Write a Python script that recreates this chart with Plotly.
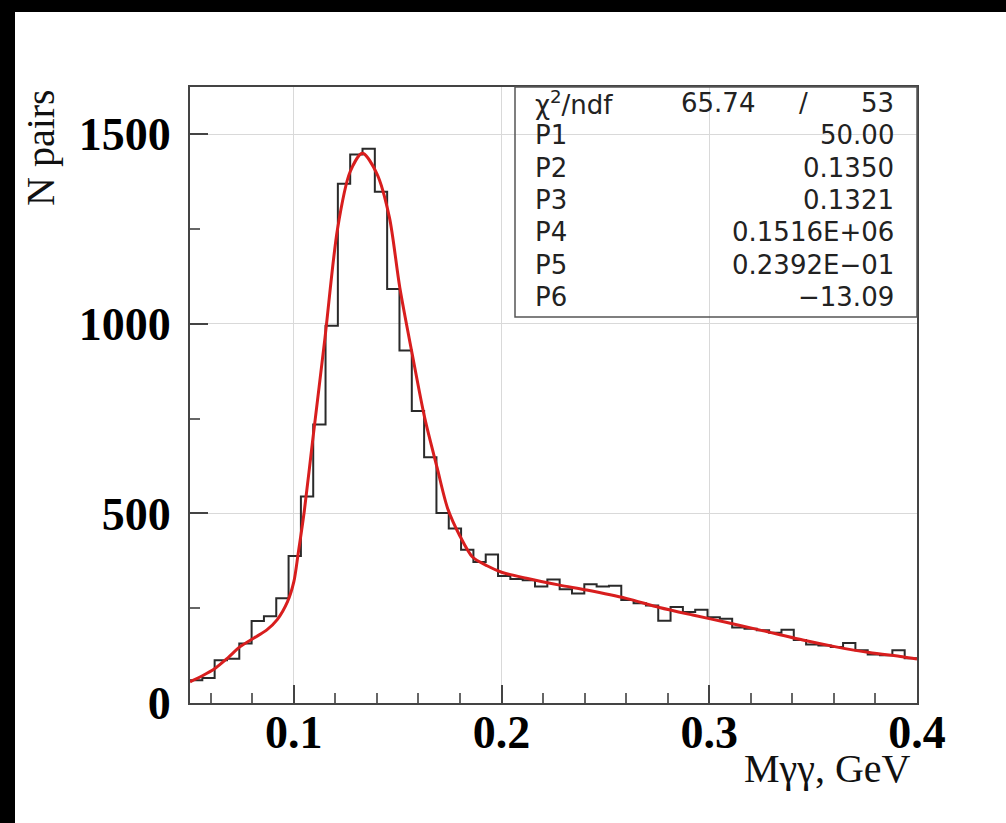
import numpy as np
import plotly.graph_objects as go

# ---------------- data ----------------
bin_lo, bin_hi, n_bins = 0.05, 0.40, 59
counts = [60, 66, 113, 117, 157, 216, 229, 276, 388, 545,
          735, 995, 1370, 1447, 1462, 1349, 1092, 930, 770, 648,
          501, 460, 404, 372, 392, 335, 327, 324, 307, 326,
          300, 289, 313, 307, 309, 272, 263, 257, 217, 253,
          240, 246, 226, 222, 199, 196, 192, 185, 193, 166,
          154, 152, 148, 158, 139, 128, 126, 139, 118]

fit_x = [0.050, 0.056, 0.062, 0.068, 0.074, 0.081, 0.087, 0.092, 0.097, 0.100,
         0.102, 0.105, 0.109, 0.115, 0.121, 0.127, 0.133, 0.140, 0.146, 0.151,
         0.157, 0.163, 0.169, 0.174, 0.180, 0.186, 0.193, 0.200, 0.212, 0.228,
         0.241, 0.260, 0.276, 0.292, 0.308, 0.324, 0.345, 0.361, 0.377, 0.393, 0.400]
fit_y = [56, 72, 91, 118, 148, 172, 193, 220, 268, 320,
         391, 505, 690, 964, 1250, 1400, 1450, 1396, 1281, 1096,
         920, 752, 620, 514, 440, 385, 362, 345, 329, 311,
         298, 276, 252, 232, 213, 193, 166, 148, 133, 122, 116]

x_ticks = [0.1, 0.2, 0.3, 0.4]
x_tick_labels = ["0.1", "0.2", "0.3", "0.4"]
y_ticks = [0, 500, 1000, 1500]
y_tick_labels = ["0", "500", "1000", "1500"]

stat_names = ["χ<sup>2</sup>/ndf", "P1", "P2", "P3", "P4", "P5", "P6"]
stat_values = ["50.00", "0.1350", "0.1321", "0.1516E+06", "0.2392E−01", "−13.09"]
chi2_value = "65.74"
ndf_value = "53"

x_title = "Mγγ, GeV"
y_title = "N pairs"

# ---------------- layout geometry (pixels) ----------------
W, H = 1006, 823
L, R, T, B = 190, 917, 87, 703  # plot frame


def px(xp):
    return (xp - L) / (R - L)


def py(yp):
    return (B - yp) / (B - T)


edges = np.linspace(bin_lo, bin_hi, n_bins + 1)
step_x = list(edges)
step_y = counts + [counts[-1]]

fig = go.Figure()
fig.add_trace(go.Scatter(
    x=step_x, y=step_y, mode="lines", line=dict(shape="hv", color="#2a2a2a", width=2),
    hoverinfo="skip", showlegend=False))
fig.add_trace(go.Scatter(
    x=fit_x, y=fit_y, mode="lines",
    line=dict(shape="spline", smoothing=0.8, color="#d81e1e", width=3),
    hoverinfo="skip", showlegend=False))

tick_font = dict(family="Liberation Serif", size=46, color="black", weight="bold")

fig.update_xaxes(
    range=[bin_lo, bin_hi], tickmode="array", tickvals=x_ticks, ticktext=x_tick_labels,
    tickfont=tick_font, ticks="inside", ticklen=18, tickwidth=1.5, tickcolor="#444",
    showgrid=True, gridcolor="#d9d9d9", gridwidth=1,
    showline=True, linecolor="#444", linewidth=2, mirror=True, zeroline=False,
    ticklabelstandoff=-12,
    minor=dict(dtick=0.02, tick0=0, ticks="inside", ticklen=10, tickcolor="#666", showgrid=False),
)
fig.update_yaxes(
    range=[0, 1625], tickmode="array", tickvals=y_ticks, ticktext=y_tick_labels,
    tickfont=tick_font, ticks="inside", ticklen=18, tickwidth=1.5, tickcolor="#444",
    showgrid=True, gridcolor="#d9d9d9", gridwidth=1,
    showline=True, linecolor="#444", linewidth=2, mirror=True, zeroline=False,
    ticklabelstandoff=8,
    minor=dict(dtick=250, tick0=0, ticks="inside", ticklen=10, tickcolor="#666", showgrid=False),
)

shapes = [
    # black scan border (top and left)
    dict(type="rect", xref="paper", yref="paper", x0=px(-5), x1=px(W + 5), y0=py(12), y1=py(-5),
         fillcolor="black", line=dict(width=0), layer="above"),
    dict(type="rect", xref="paper", yref="paper", x0=px(-5), x1=px(15), y0=py(H + 5), y1=py(-5),
         fillcolor="black", line=dict(width=0), layer="above"),
    # stats box
    dict(type="rect", xref="paper", yref="paper", x0=px(515), x1=px(917), y0=py(317), y1=py(87),
         fillcolor="rgba(0,0,0,0)", line=dict(color="#555", width=1.5), layer="above"),
]

stat_font = dict(family="DejaVu Sans", size=26, color="#222")
annotations = []
row_top, row_bot = 103, 297
row_step = (row_bot - row_top) / (len(stat_names) - 1)
for i, name in enumerate(stat_names):
    yy = row_top + i * row_step
    annotations.append(dict(xref="paper", yref="paper", x=px(533), y=py(yy), text=name,
                            xanchor="left", yanchor="middle", showarrow=False, font=stat_font))
for i, val in enumerate(stat_values):
    yy = row_top + (i + 1) * row_step
    annotations.append(dict(xref="paper", yref="paper", x=px(896), y=py(yy), text=val,
                            xanchor="right", yanchor="middle", showarrow=False, font=stat_font))
annotations.append(dict(xref="paper", yref="paper", x=px(757), y=py(row_top), text=chi2_value,
                        xanchor="right", yanchor="middle", showarrow=False, font=stat_font))
annotations.append(dict(xref="paper", yref="paper", x=px(803), y=py(row_top), text="/",
                        xanchor="center", yanchor="middle", showarrow=False, font=stat_font))
annotations.append(dict(xref="paper", yref="paper", x=px(896), y=py(row_top), text=ndf_value,
                        xanchor="right", yanchor="middle", showarrow=False, font=stat_font))

title_font = dict(family="Liberation Serif", size=40, color="#111")
annotations.append(dict(xref="paper", yref="paper", x=px(913), y=py(768), text=x_title,
                        xanchor="right", yanchor="middle", showarrow=False, font=title_font))
annotations.append(dict(xref="paper", yref="paper", x=px(40), y=py(148), text=y_title,
                        textangle=-90, xanchor="center", yanchor="middle", showarrow=False,
                        font=title_font))

fig.update_layout(
    width=W, height=H,
    margin=dict(l=L, r=W - R, t=T, b=H - B, pad=0),
    paper_bgcolor="white", plot_bgcolor="white",
    shapes=shapes, annotations=annotations, showlegend=False,
)

fig.write_html("out.html")
